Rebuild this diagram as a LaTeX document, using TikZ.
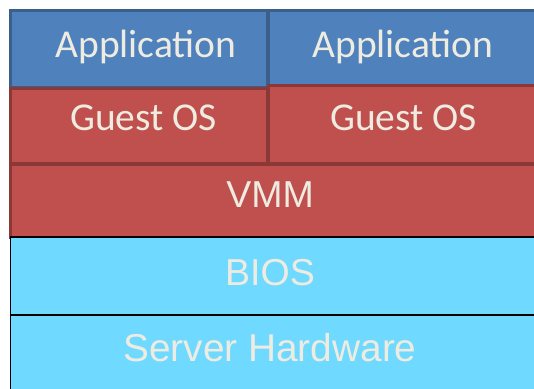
\documentclass[tikz,border=0pt]{standalone}
\usepackage{fontspec}
\setmainfont{Carlito}
\newfontfamily\arialfont{Liberation Sans}
\definecolor{appfill}{HTML}{4F81BD}
\definecolor{appline}{HTML}{3A5F8B}
\definecolor{osfill}{HTML}{C0504D}
\definecolor{osline}{HTML}{8C3836}
\definecolor{hwfill}{HTML}{6FD9FF}
\definecolor{labeltext}{HTML}{EEECE1}
\tikzset{
  appbox/.style={fill=appfill, draw=appline, line width=3pt},
  osbox/.style={fill=osfill, draw=osline, line width=3pt},
  hwbox/.style={fill=hwfill, draw=black, line width=1.5pt},
  calibrilabel/.style={text=labeltext, inner sep=0pt, anchor=base,
    font=\fontsize{39.5}{40}\selectfont},
  ariallabel/.style={text=labeltext, inner sep=0pt, anchor=base,
    font=\arialfont\fontsize{37.5}{38}\selectfont},
}
\begin{document}
\begin{tikzpicture}[x=1pt, y=-1pt]
\useasboundingbox (0,0) rectangle (534,388);
\clip (0,0) rectangle (534,388);
% layer boxes, top of the stack first
\draw[appbox] (10.5,10.5) rectangle (267,87);
\draw[appbox] (268,10.5) rectangle (545,85);
\draw[osbox] (10.5,88) rectangle (267,163.5);
\draw[osbox] (268,85.5) rectangle (545,163.5);
\draw[osbox] (10,164) rectangle (545,237);
\draw[hwbox] (10.7,237) rectangle (545,315);
\draw[hwbox] (10.7,315) rectangle (545,400);
% layer names
\node[calibrilabel] (appA) at (146,57) {Application};
\node[calibrilabel] (appB) at (403,57) {Application};
\node[calibrilabel] (osA) at (143.5,130) {Guest OS};
\node[calibrilabel] (osB) at (403.5,130) {Guest OS};
\node[ariallabel] (vmm) at (270,207) {VMM};
\node[ariallabel] (bios) at (270,285) {BIOS};
\node[ariallabel, font=\arialfont\fontsize{38.8}{39}\selectfont] (hw) at (270,361) {Server Hardware};
\end{tikzpicture}
\end{document}
